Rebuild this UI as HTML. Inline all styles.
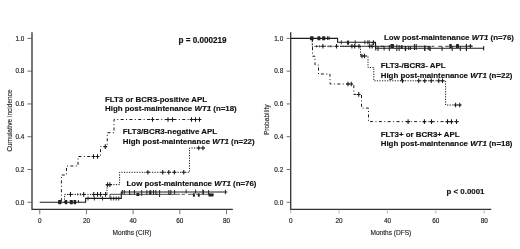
<!DOCTYPE html>
<html><head><meta charset="utf-8"><style>
html,body{margin:0;padding:0;background:#fff;}
svg{display:block;filter:grayscale(1) blur(0.3px);}
.lb{font-family:"Liberation Sans",sans-serif;font-weight:bold;font-size:7.9px;fill:#111;stroke:#111;stroke-width:0.15px;}
.tk{font-family:"Liberation Sans",sans-serif;font-size:6.4px;fill:#222;stroke:#222;stroke-width:0.16px;}
.ax{font-family:"Liberation Sans",sans-serif;font-size:6.55px;fill:#1a1a1a;stroke:#1a1a1a;stroke-width:0.12px;}
</style></head><body>
<svg width="520" height="249" viewBox="0 0 520 249">
<rect width="520" height="249" fill="#fff"/>
<path d="M32.0 32.2V209.3H232.8" fill="none" stroke="#303030" stroke-width="1.3"/>
<path d="M27.4 202.25H32.0" stroke="#555" stroke-width="0.85"/>
<text x="24.3" y="204.55" class="tk" text-anchor="end">0.0</text>
<path d="M27.4 169.48H32.0" stroke="#555" stroke-width="0.85"/>
<text x="24.3" y="171.78" class="tk" text-anchor="end">0.2</text>
<path d="M27.4 136.71H32.0" stroke="#555" stroke-width="0.85"/>
<text x="24.3" y="139.01" class="tk" text-anchor="end">0.4</text>
<path d="M27.4 103.94H32.0" stroke="#555" stroke-width="0.85"/>
<text x="24.3" y="106.24" class="tk" text-anchor="end">0.6</text>
<path d="M27.4 71.17H32.0" stroke="#555" stroke-width="0.85"/>
<text x="24.3" y="73.47" class="tk" text-anchor="end">0.8</text>
<path d="M27.4 38.40H32.0" stroke="#555" stroke-width="0.85"/>
<text x="24.3" y="40.70" class="tk" text-anchor="end">1.0</text>
<path d="M39.75 209.3V214.3" stroke="#555" stroke-width="0.8"/>
<text x="39.75" y="223.0" class="tk" text-anchor="middle">0</text>
<path d="M86.44 209.3V214.3" stroke="#555" stroke-width="0.8"/>
<text x="86.44" y="223.0" class="tk" text-anchor="middle">20</text>
<path d="M133.12 209.3V214.3" stroke="#555" stroke-width="0.8"/>
<text x="133.12" y="223.0" class="tk" text-anchor="middle">40</text>
<path d="M179.81 209.3V214.3" stroke="#555" stroke-width="0.8"/>
<text x="179.81" y="223.0" class="tk" text-anchor="middle">60</text>
<path d="M226.50 209.3V214.3" stroke="#555" stroke-width="0.8"/>
<text x="226.50" y="223.0" class="tk" text-anchor="middle">80</text>
<text x="132" y="235.3" class="ax" text-anchor="middle">Months (CIR)</text>
<text transform="translate(11.7 120.5) rotate(-90)" class="ax" text-anchor="middle">Cumulative incidence</text>
<path d="M39.75 202.2H85.6V198.4H121.3V192.0H227.4" fill="none" stroke="#1a1a1a" stroke-width="1.1"/>
<path d="M110 198.4V194.3H175" fill="none" stroke="#333" stroke-width="0.9"/>
<path d="M175 194.3H180M181.5 194.3H185M188 194.3H193M196 194.3H199M200 194.3H214" fill="none" stroke="#444" stroke-width="0.9"/>
<rect x="58.10" y="200.00" width="3.40" height="4.20" fill="#222" rx="0.6"/>
<rect x="64.70" y="200.00" width="2.60" height="4.20" fill="#222" rx="0.6"/>
<rect x="69.70" y="200.00" width="3.20" height="4.20" fill="#222" rx="0.6"/>
<rect x="73.60" y="200.00" width="2.60" height="4.20" fill="#222" rx="0.6"/>
<path d="M78.50 200.00V202.70" stroke="#1a1a1a" stroke-width="0.9"/>
<path d="M88.00 196.50V200.50" stroke="#1a1a1a" stroke-width="0.9"/>
<path d="M94.40 196.50V200.50" stroke="#1a1a1a" stroke-width="0.9"/>
<path d="M102.50 196.50V200.50" stroke="#1a1a1a" stroke-width="0.9"/>
<path d="M111.00 196.50V200.50" stroke="#1a1a1a" stroke-width="0.9"/>
<path d="M113.75 196.50V200.50" stroke="#1a1a1a" stroke-width="0.9"/>
<path d="M116.25 196.50V200.50" stroke="#1a1a1a" stroke-width="0.9"/>
<path d="M118.75 196.50V200.50" stroke="#1a1a1a" stroke-width="0.9"/>
<path d="M122.3 190V194" stroke="#1a1a1a" stroke-width="0.95"/>
<path d="M124.3 190V194.5" stroke="#1a1a1a" stroke-width="0.95"/>
<path d="M129.5 190V194.3" stroke="#1a1a1a" stroke-width="0.95"/>
<path d="M134.4 190V195" stroke="#1a1a1a" stroke-width="0.95"/>
<path d="M141.7 190V196" stroke="#1a1a1a" stroke-width="0.95"/>
<path d="M146.9 190V195" stroke="#1a1a1a" stroke-width="0.95"/>
<path d="M153.5 190V194.5" stroke="#1a1a1a" stroke-width="0.95"/>
<path d="M155.8 190V194.3" stroke="#1a1a1a" stroke-width="0.95"/>
<path d="M159.6 190V197" stroke="#1a1a1a" stroke-width="0.95"/>
<path d="M168.8 190V194.5" stroke="#1a1a1a" stroke-width="0.95"/>
<path d="M170.8 190V194" stroke="#1a1a1a" stroke-width="0.95"/>
<path d="M174.6 190V194" stroke="#1a1a1a" stroke-width="0.95"/>
<path d="M186.1 189.5V193.5" stroke="#1a1a1a" stroke-width="0.95"/>
<path d="M195.6 189.5V193.5" stroke="#1a1a1a" stroke-width="0.95"/>
<path d="M202.9 189.5V194" stroke="#1a1a1a" stroke-width="0.95"/>
<path d="M203.4 190V194.5" stroke="#1a1a1a" stroke-width="0.95"/>
<path d="M208.6 190V195" stroke="#1a1a1a" stroke-width="0.95"/>
<path d="M225.4 189.8V194.3" stroke="#1a1a1a" stroke-width="0.95"/>
<rect x="136.40" y="193.10" width="3.00" height="3.00" fill="#222" rx="0.6"/>
<rect x="149.20" y="190.20" width="2.20" height="4.60" fill="#222" rx="0.6"/>
<rect x="192.90" y="193.20" width="2.00" height="3.60" fill="#222" rx="0.6"/>
<rect x="197.80" y="193.30" width="2.00" height="3.40" fill="#222" rx="0.6"/>
<rect x="208.50" y="193.50" width="5.00" height="3.00" fill="#222" rx="0.6"/>
<path d="M129.5 194.3H131.5M155.8 194.3H158M168.8 194.3H171" stroke="#1a1a1a" stroke-width="0.9"/>
<path d="M64.6 202.2V194.4H107V184.6H119.6V172.3H189.5V148H205" fill="none" stroke="#1a1a1a" stroke-width="1.0" stroke-dasharray="1.2 1.35"/>
<path d="M68.60 194.40H72.40M70.50 192.10V196.70" stroke="#1a1a1a" stroke-width="1.05"/>
<path d="M81.80 194.40H85.60M83.70 192.10V196.70" stroke="#1a1a1a" stroke-width="1.05"/>
<path d="M91.85 194.40H95.65M93.75 192.10V196.70" stroke="#1a1a1a" stroke-width="1.05"/>
<path d="M95.60 194.40H99.40M97.50 192.10V196.70" stroke="#1a1a1a" stroke-width="1.05"/>
<path d="M98.70 194.40H102.50M100.60 192.10V196.70" stroke="#1a1a1a" stroke-width="1.05"/>
<path d="M103.70 194.40H107.50M105.60 192.10V196.70" stroke="#1a1a1a" stroke-width="1.05"/>
<path d="M77.70 193.40V195.40" stroke="#1a1a1a" stroke-width="0.9"/>
<path d="M80.50 193.40V195.40" stroke="#1a1a1a" stroke-width="0.9"/>
<path d="M105.70 184.60H109.50M107.60 182.30V186.90" stroke="#1a1a1a" stroke-width="1.05"/>
<path d="M108.00 184.60H111.80M109.90 182.30V186.90" stroke="#1a1a1a" stroke-width="1.05"/>
<path d="M146.00 172.30H149.80M147.90 170.00V174.60" stroke="#1a1a1a" stroke-width="1.05"/>
<path d="M160.85 172.30H164.65M162.75 170.00V174.60" stroke="#1a1a1a" stroke-width="1.05"/>
<path d="M166.85 172.30H170.65M168.75 170.00V174.60" stroke="#1a1a1a" stroke-width="1.05"/>
<path d="M172.50 172.30H176.30M174.40 170.00V174.60" stroke="#1a1a1a" stroke-width="1.05"/>
<path d="M181.85 172.30H185.65M183.75 170.00V174.60" stroke="#1a1a1a" stroke-width="1.05"/>
<path d="M196.85 148.00H200.65M198.75 145.70V150.30" stroke="#1a1a1a" stroke-width="1.05"/>
<path d="M201.10 148.00H204.90M203.00 145.70V150.30" stroke="#1a1a1a" stroke-width="1.05"/>
<path d="M61.4 202.2V175H66.5V166H78V156.5H100.5V146.6H107.25V132.7H114V119.5H201" fill="none" stroke="#1a1a1a" stroke-width="1.0" stroke-dasharray="3 2.4 1 2.4" stroke-dashoffset="-1.15"/>
<path d="M91.60 156.50H95.40M93.50 154.20V158.80" stroke="#1a1a1a" stroke-width="1.05"/>
<path d="M95.60 156.50H99.40M97.50 154.20V158.80" stroke="#1a1a1a" stroke-width="1.05"/>
<path d="M103.40 146.60H107.20M105.30 144.30V148.90" stroke="#1a1a1a" stroke-width="1.05"/>
<path d="M150.60 119.50H154.40M152.50 117.20V121.80" stroke="#1a1a1a" stroke-width="1.05"/>
<path d="M166.10 119.50H169.90M168.00 117.20V121.80" stroke="#1a1a1a" stroke-width="1.05"/>
<path d="M170.60 119.50H174.40M172.50 117.20V121.80" stroke="#1a1a1a" stroke-width="1.05"/>
<path d="M189.60 119.50H193.40M191.50 117.20V121.80" stroke="#1a1a1a" stroke-width="1.05"/>
<path d="M193.60 119.50H197.40M195.50 117.20V121.80" stroke="#1a1a1a" stroke-width="1.05"/>
<path d="M197.60 119.50H201.40M199.50 117.20V121.80" stroke="#1a1a1a" stroke-width="1.05"/>
<text x="178.5" y="42.6" class="lb pv" style="font-size:8.15px">p = 0.000219</text>
<text x="105" y="101.5" class="lb">FLT3 or BCR3-positive APL</text>
<text x="105" y="110.7" class="lb">High post-maintenance <tspan font-style="italic">WT1</tspan> (n=18)</text>
<text x="122.8" y="134.4" class="lb">FLT3/BCR3-negative APL</text>
<text x="122.8" y="143.7" class="lb">High post-maintenance <tspan font-style="italic">WT1</tspan> (n=22)</text>
<text x="126.5" y="186.1" class="lb">Low post-maintenance <tspan font-style="italic">WT1</tspan> (n=76)</text>
<path d="M290.7 32.2V209.4H491.3" fill="none" stroke="#303030" stroke-width="1.3"/>
<path d="M286.6 202.25H290.7" stroke="#555" stroke-width="0.85"/>
<text x="283.2" y="204.55" class="tk" text-anchor="end">0.0</text>
<path d="M286.6 169.48H290.7" stroke="#555" stroke-width="0.85"/>
<text x="283.2" y="171.78" class="tk" text-anchor="end">0.2</text>
<path d="M286.6 136.71H290.7" stroke="#555" stroke-width="0.85"/>
<text x="283.2" y="139.01" class="tk" text-anchor="end">0.4</text>
<path d="M286.6 103.94H290.7" stroke="#555" stroke-width="0.85"/>
<text x="283.2" y="106.24" class="tk" text-anchor="end">0.6</text>
<path d="M286.6 71.17H290.7" stroke="#555" stroke-width="0.85"/>
<text x="283.2" y="73.47" class="tk" text-anchor="end">0.8</text>
<path d="M286.6 38.40H290.7" stroke="#555" stroke-width="0.85"/>
<text x="283.2" y="40.70" class="tk" text-anchor="end">1.0</text>
<path d="M290.70 209.4V213.5" stroke="#999" stroke-width="0.7"/>
<text x="290.70" y="223.2" class="tk" text-anchor="middle">0</text>
<path d="M339.07 209.4V213.5" stroke="#999" stroke-width="0.7"/>
<text x="339.07" y="223.2" class="tk" text-anchor="middle">20</text>
<path d="M387.45 209.4V213.5" stroke="#999" stroke-width="0.7"/>
<text x="387.45" y="223.2" class="tk" text-anchor="middle">40</text>
<path d="M435.82 209.4V213.5" stroke="#999" stroke-width="0.7"/>
<text x="435.82" y="223.2" class="tk" text-anchor="middle">60</text>
<path d="M484.20 209.4V213.5" stroke="#999" stroke-width="0.7"/>
<text x="484.20" y="223.2" class="tk" text-anchor="middle">80</text>
<text x="390.9" y="235" class="ax" text-anchor="middle">Months (DFS)</text>
<text transform="translate(268.9 119.8) rotate(-90)" class="ax" text-anchor="middle">Probability</text>
<path d="M290.9 38.4H337.6V42.3H375.5V48.3H484" fill="none" stroke="#1a1a1a" stroke-width="1.1"/>
<path d="M340 46.3H430M431.5 46.3H434.3M438.4 46.3H442.1M445.3 46.3H448.8M450 46.3H472.7" fill="none" stroke="#2a2a2a" stroke-width="0.95"/>
<rect x="310.00" y="36.30" width="3.60" height="4.00" fill="#222" rx="0.6"/>
<rect x="317.40" y="36.30" width="3.00" height="4.00" fill="#222" rx="0.6"/>
<rect x="322.10" y="36.30" width="3.20" height="4.00" fill="#222" rx="0.6"/>
<path d="M327.60 36.20V40.00" stroke="#1a1a1a" stroke-width="0.9"/>
<path d="M329.00 36.20V40.00" stroke="#1a1a1a" stroke-width="0.9"/>
<path d="M341.30 40.30V44.30" stroke="#1a1a1a" stroke-width="0.9"/>
<path d="M355.20 40.30V44.30" stroke="#1a1a1a" stroke-width="0.9"/>
<path d="M364.90 40.30V44.30" stroke="#1a1a1a" stroke-width="0.9"/>
<path d="M367.80 40.30V44.30" stroke="#1a1a1a" stroke-width="0.9"/>
<path d="M369.20 40.30V44.30" stroke="#1a1a1a" stroke-width="0.9"/>
<rect x="346.90" y="40.50" width="2.20" height="4.20" fill="#222" rx="0.6"/>
<path d="M371.50 42.60H375.30M373.40 40.30V44.90" stroke="#1a1a1a" stroke-width="1.05"/>
<path d="M350.00 46.30H353.80M351.90 44.00V48.60" stroke="#1a1a1a" stroke-width="1.05"/>
<path d="M352.80 46.30H356.60M354.70 44.00V48.60" stroke="#1a1a1a" stroke-width="1.05"/>
<path d="M357.10 46.30H360.90M359.00 44.00V48.60" stroke="#1a1a1a" stroke-width="1.05"/>
<path d="M367.80 46.30H371.60M369.70 44.00V48.60" stroke="#1a1a1a" stroke-width="1.05"/>
<path d="M370.20 46.30H374.00M372.10 44.00V48.60" stroke="#1a1a1a" stroke-width="1.05"/>
<path d="M375.75 45V50.5" stroke="#1a1a1a" stroke-width="1.0"/>
<path d="M378 46V51" stroke="#1a1a1a" stroke-width="1.0"/>
<path d="M384.1 46.3V50.5" stroke="#1a1a1a" stroke-width="1.0"/>
<path d="M389.3 45V51" stroke="#1a1a1a" stroke-width="1.0"/>
<path d="M396.8 44.5V51" stroke="#1a1a1a" stroke-width="1.0"/>
<path d="M399.1 45V51" stroke="#1a1a1a" stroke-width="1.0"/>
<path d="M405.5 46V51" stroke="#1a1a1a" stroke-width="1.4"/>
<path d="M408.7 46.3V50" stroke="#1a1a1a" stroke-width="1.0"/>
<path d="M410.4 46.3V50" stroke="#1a1a1a" stroke-width="1.0"/>
<path d="M414.4 44V50" stroke="#1a1a1a" stroke-width="1.0"/>
<path d="M416.2 44V50" stroke="#1a1a1a" stroke-width="1.0"/>
<path d="M424.8 45.5V51" stroke="#1a1a1a" stroke-width="1.4"/>
<path d="M428.3 46.3V50" stroke="#1a1a1a" stroke-width="1.0"/>
<path d="M430 46V51" stroke="#1a1a1a" stroke-width="1.4"/>
<path d="M442.1 46.5V51" stroke="#1a1a1a" stroke-width="1.0"/>
<path d="M452.2 46V51" stroke="#1a1a1a" stroke-width="1.0"/>
<path d="M460.3 46V51" stroke="#1a1a1a" stroke-width="1.0"/>
<path d="M466.4 44V51" stroke="#1a1a1a" stroke-width="1.2"/>
<path d="M470.4 44V48" stroke="#1a1a1a" stroke-width="1.0"/>
<path d="M483.7 46V50.5" stroke="#1a1a1a" stroke-width="1.0"/>
<rect x="390.45" y="44.00" width="3.50" height="4.00" fill="#222" rx="0.6"/>
<rect x="400.70" y="45.25" width="2.00" height="3.50" fill="#222" rx="0.6"/>
<rect x="449.25" y="44.00" width="2.50" height="4.00" fill="#222" rx="0.6"/>
<rect x="456.00" y="44.00" width="3.00" height="4.00" fill="#222" rx="0.6"/>
<path d="M380.7 46.3H384.1M468.4 46H472.4" stroke="#1a1a1a" stroke-width="0.9"/>
<path d="M312.2 38.4V46.3H360.5V56H368V67.5H373.8V80.8H445.6V105H461" fill="none" stroke="#1a1a1a" stroke-width="1.0" stroke-dasharray="1.2 1.35"/>
<path d="M321.00 46.30H324.80M322.90 44.00V48.60" stroke="#1a1a1a" stroke-width="1.05"/>
<path d="M334.60 46.30H338.40M336.50 44.00V48.60" stroke="#1a1a1a" stroke-width="1.05"/>
<path d="M316.50 45.30V47.30" stroke="#1a1a1a" stroke-width="0.9"/>
<path d="M319.30 45.30V47.30" stroke="#1a1a1a" stroke-width="0.9"/>
<path d="M329.00 45.30V47.30" stroke="#1a1a1a" stroke-width="0.9"/>
<path d="M331.00 45.30V47.30" stroke="#1a1a1a" stroke-width="0.9"/>
<path d="M360.10 56.00H363.90M362.00 53.70V58.30" stroke="#1a1a1a" stroke-width="1.05"/>
<path d="M362.60 56.00H366.40M364.50 53.70V58.30" stroke="#1a1a1a" stroke-width="1.05"/>
<path d="M400.60 80.80H404.40M402.50 78.50V83.10" stroke="#1a1a1a" stroke-width="1.05"/>
<path d="M416.85 80.80H420.65M418.75 78.50V83.10" stroke="#1a1a1a" stroke-width="1.05"/>
<path d="M422.85 80.80H426.65M424.75 78.50V83.10" stroke="#1a1a1a" stroke-width="1.05"/>
<path d="M429.35 80.80H433.15M431.25 78.50V83.10" stroke="#1a1a1a" stroke-width="1.05"/>
<path d="M436.85 80.80H440.65M438.75 78.50V83.10" stroke="#1a1a1a" stroke-width="1.05"/>
<path d="M440.60 80.80H444.40M442.50 78.50V83.10" stroke="#1a1a1a" stroke-width="1.05"/>
<path d="M453.70 105.00H457.50M455.60 102.70V107.30" stroke="#1a1a1a" stroke-width="1.05"/>
<path d="M457.85 105.00H461.65M459.75 102.70V107.30" stroke="#1a1a1a" stroke-width="1.05"/>
<path d="M312.5 38.4V56.2H315V65H318.5V74H330V84H353.8V94.4H361.5V108.1H368.5V121.6H458.5" fill="none" stroke="#1a1a1a" stroke-width="1.0" stroke-dasharray="3 2.4 1 2.4"/>
<path d="M346.10 84.00H349.90M348.00 81.70V86.30" stroke="#1a1a1a" stroke-width="1.05"/>
<path d="M349.35 84.00H353.15M351.25 81.70V86.30" stroke="#1a1a1a" stroke-width="1.05"/>
<path d="M356.85 94.40H360.65M358.75 92.10V96.70" stroke="#1a1a1a" stroke-width="1.05"/>
<path d="M406.20 121.60H410.00M408.10 119.30V123.90" stroke="#1a1a1a" stroke-width="1.05"/>
<path d="M422.50 121.60H426.30M424.40 119.30V123.90" stroke="#1a1a1a" stroke-width="1.05"/>
<path d="M429.60 121.60H433.40M431.50 119.30V123.90" stroke="#1a1a1a" stroke-width="1.05"/>
<path d="M445.60 121.60H449.40M447.50 119.30V123.90" stroke="#1a1a1a" stroke-width="1.05"/>
<path d="M449.60 121.60H453.40M451.50 119.30V123.90" stroke="#1a1a1a" stroke-width="1.05"/>
<path d="M454.60 121.60H458.40M456.50 119.30V123.90" stroke="#1a1a1a" stroke-width="1.05"/>
<text x="384" y="40" class="lb">Low post-maintenance <tspan font-style="italic">WT1</tspan> (n=76)</text>
<text x="380.7" y="68.2" class="lb">FLT3-/BCR3- APL</text>
<text x="380.7" y="77.5" class="lb">High post-maintenance <tspan font-style="italic">WT1</tspan> (n=22)</text>
<text x="380.7" y="136.5" class="lb">FLT3+ or BCR3+ APL</text>
<text x="380.7" y="145.7" class="lb">High post-maintenance <tspan font-style="italic">WT1</tspan> (n=18)</text>
<text x="446.5" y="194.1" class="lb pv">p &lt; 0.0001</text>
</svg>
</body></html>
